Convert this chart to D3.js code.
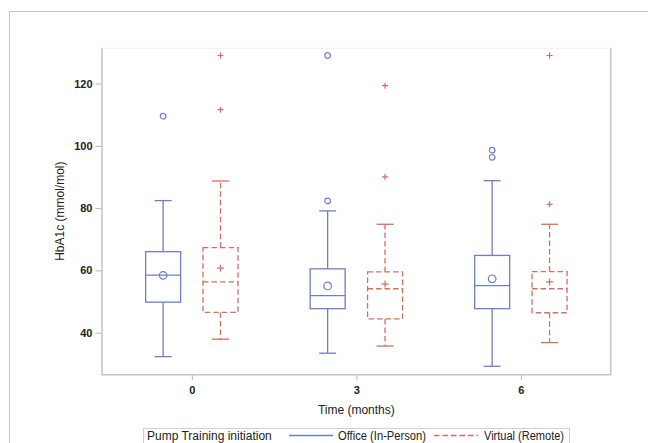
<!DOCTYPE html>
<html>
<head>
<meta charset="utf-8">
<script src="https://cdn.jsdelivr.net/npm/d3@7"></script>
<style>
  body { margin: 0; background: #fff; }
  text { font-family: "Liberation Sans", Arial, sans-serif; fill: #222; }
</style>
</head>
<body>
<div id="chart"></div>
<script>
// Valeurs
const times = ["0", "3", "6"];
const groups = ["Office (In-Person)", "Virtual (Remote)"];
const yTicks = [40, 60, 80, 100, 120];

const officeMin = [32.3, 33.4, 29.2];
const officeQ1 = [49.8, 47.7, 47.7];
const officeMedian = [58.5, 51.9, 55.1];
const officeQ3 = [66.0, 60.5, 64.8];
const officeMax = [82.4, 79.1, 88.8];
const officeMean = [58.4, 55.0, 57.3];
const officeOutliers = [[109.5], [129.0, 82.3], [98.6, 96.3]];

const virtualMin = [37.9, 35.7, 36.8];
const virtualQ1 = [46.5, 44.4, 46.4];
const virtualMedian = [56.3, 54.1, 54.1];
const virtualQ3 = [67.3, 59.5, 59.6];
const virtualMax = [88.7, 74.8, 74.8];
const virtualMean = [60.7, 55.6, 56.3];
const virtualOutliers = [[129.0, 111.6], [119.3, 90.0], [129.0, 81.2]];

const W = 648, H = 443;
const margin = { top: 47.7, right: 37.3, bottom: 68.3, left: 102 };
const colors = ["#6f7fc4", "#d76c63"];
const dashes = [null, "5.5,3"];

function buildBoxes(min, q1, med, q3, max, mean, outl, g) {
    return times.map((t, i) => ({
        time: t, group: g, min: min[i], q1: q1[i], median: med[i],
        q3: q3[i], max: max[i], mean: mean[i], outliers: outl[i]
    }));
}
const boxes = buildBoxes(officeMin, officeQ1, officeMedian, officeQ3, officeMax, officeMean, officeOutliers, groups[0])
    .concat(buildBoxes(virtualMin, virtualQ1, virtualMedian, virtualQ3, virtualMax, virtualMean, virtualOutliers, groups[1]));

const svg = d3.select("#chart").append("svg")
    .attr("width", W).attr("height", H);

// Cadre extérieur
svg.append("rect")
    .attr("x", 9.5).attr("y", 11.5)
    .attr("width", 700).attr("height", 500)
    .attr("fill", "none").attr("stroke", "#c8c8c8");

const x = d3.scalePoint().domain(times)
    .range([margin.left, W - margin.right]).padding(0.546);
const xg = d3.scaleBand().domain(groups).range([-57.4, 57.4]);
const y = d3.scaleLinear().domain([26.5, 131.5])
    .range([H - margin.bottom, margin.top]);

const boxW = 35, capW = 17;

// Cadre du graphique
const x0 = margin.left, x1 = W - margin.right, y0 = margin.top, y1 = H - margin.bottom;
svg.append("line").attr("x1", x0).attr("x2", x1).attr("y1", y0 + 0.5).attr("y2", y0 + 0.5)
    .attr("stroke", "#f0f0f0");
svg.append("path")
    .attr("d", `M${x0},${y0}V${y1}H${x1}V${y0}`)
    .attr("fill", "none").attr("stroke", "#c4c4c4").attr("stroke-width", 1.5);

// Axes
const yAxis = svg.append("g")
    .attr("transform", `translate(${x0 - 0.5},0)`)
    .call(d3.axisLeft(y).tickValues(yTicks).tickSize(6).tickPadding(3));
const xAxis = svg.append("g")
    .attr("transform", `translate(0,${y1 + 0.5})`)
    .call(d3.axisBottom(x).tickSize(5).tickPadding(6));
[yAxis, xAxis].forEach(a => {
    a.select(".domain").remove();
    a.selectAll(".tick line").attr("stroke", "#b8b8b8");
    a.selectAll(".tick text")
        .style("font-family", "'Liberation Sans', Arial, sans-serif")
        .style("font-size", "11px").style("font-weight", "bold").attr("fill", "#222");
});

svg.append("text")
    .attr("transform", `translate(64,${(y0 + y1) / 2}) rotate(-90)`)
    .attr("text-anchor", "middle")
    .style("font-size", "12px")
    .text("HbA1c (mmol/mol)");

svg.append("text")
    .attr("x", (x0 + x1) / 2).attr("y", 413.5)
    .attr("text-anchor", "middle")
    .style("font-size", "12px")
    .text("Time (months)");

// Boîtes à moustaches
svg.selectAll(".box").data(boxes).enter().append("g")
    .attr("class", "box")
    .attr("transform", d => `translate(${x(d.time) + xg(d.group) + xg.bandwidth() / 2},0)`)
    .each(function (d) {
        const gi = groups.indexOf(d.group);
        const g = d3.select(this);
        const col = colors[gi];
        const line = (xa, xb, ya, yb, dash) => g.append("line")
            .attr("x1", xa).attr("x2", xb).attr("y1", ya).attr("y2", yb)
            .attr("stroke", col).attr("stroke-width", 1.3)
            .attr("stroke-dasharray", dash);
        line(0, 0, y(d.q3), y(d.max), dashes[gi]);
        line(0, 0, y(d.q1), y(d.min), dashes[gi]);
        line(-capW / 2, capW / 2, y(d.max), y(d.max), null);
        line(-capW / 2, capW / 2, y(d.min), y(d.min), null);
        g.append("rect")
            .attr("x", -boxW / 2).attr("y", y(d.q3))
            .attr("width", boxW).attr("height", y(d.q1) - y(d.q3))
            .attr("fill", "none").attr("stroke", col).attr("stroke-width", 1.3)
            .attr("stroke-dasharray", dashes[gi]);
        line(-boxW / 2, boxW / 2, y(d.median), y(d.median), dashes[gi]);

        const marker = (v, r) => {
            if (gi === 0) {
                g.append("circle").attr("cx", 0).attr("cy", y(v)).attr("r", r)
                    .attr("fill", "none").attr("stroke", col).attr("stroke-width", 1.2);
            } else {
                g.append("path")
                    .attr("d", `M${-r},${y(v)}H${r}M0,${y(v) - r}V${y(v) + r}`)
                    .attr("stroke", col).attr("stroke-width", 1.2);
            }
        };
        marker(d.mean, gi === 0 ? 3.8 : 3.5);
        d.outliers.forEach(v => marker(v, gi === 0 ? 2.8 : 3));
    });

// Légende
const legend = svg.append("g");
legend.append("rect")
    .attr("x", 143.5).attr("y", 428.5)
    .attr("width", 426).attr("height", 30)
    .attr("fill", "none").attr("stroke", "#d0d0d0");
legend.append("text").attr("x", 147).attr("y", 439.5)
    .style("font-size", "12px").text("Pump Training initiation");
const legItems = [
    { x1: 289, x2: 333, tx: 338 },
    { x1: 434, x2: 478, tx: 484 }
];
groups.forEach((gname, i) => {
    legend.append("line")
        .attr("x1", legItems[i].x1).attr("x2", legItems[i].x2)
        .attr("y1", 435.5).attr("y2", 435.5)
        .attr("stroke", colors[i]).attr("stroke-width", 1.3)
        .attr("stroke-dasharray", dashes[i]);
    legend.append("text").attr("x", legItems[i].tx).attr("y", 439.5)
        .attr("textLength", i === 0 ? 88 : 80).attr("lengthAdjust", "spacingAndGlyphs")
        .style("font-size", "12px").text(gname);
});
</script>
</body>
</html>
